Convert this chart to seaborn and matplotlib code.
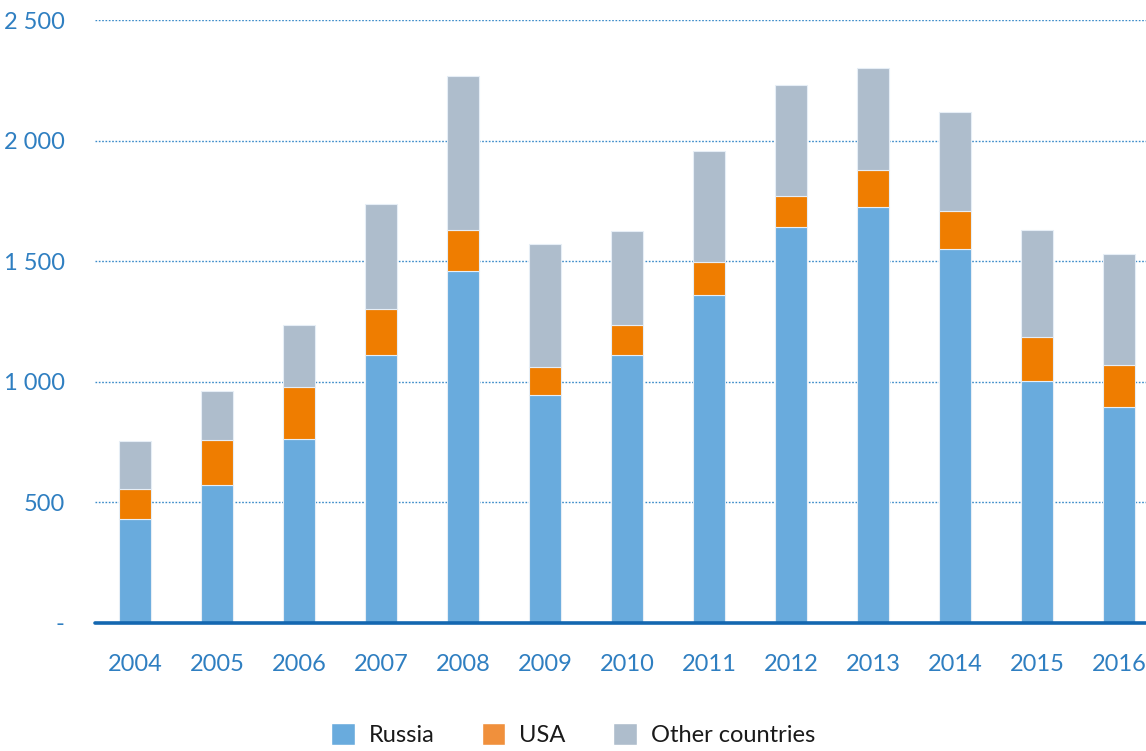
import pandas as pd
import matplotlib
matplotlib.use("Agg")
import matplotlib.pyplot as plt
import seaborn as sns
from matplotlib.patches import Patch

# -----------------------------
# Data
# -----------------------------
years = ["2004", "2005", "2006", "2007", "2008", "2009", "2010",
         "2011", "2012", "2013", "2014", "2015", "2016"]
russia = [430, 571, 763, 1112, 1461, 947, 1112, 1361, 1642, 1726, 1553, 1005, 895]
usa = [126, 188, 216, 191, 167, 115, 122, 138, 130, 152, 157, 180, 176]
other = [199, 204, 258, 436, 642, 511, 391, 460, 460, 422, 410, 444, 459]

y_ticks = [0, 500, 1000, 1500, 2000, 2500]
y_tick_labels = ["-", "500", "1 000", "1 500", "2 000", "2 500"]
series_names = ["Russia", "USA", "Other countries"]

df = pd.DataFrame({"year": years, "Russia": russia, "USA": usa, "Other": other})
df["base_usa"] = df["Russia"]
df["base_other"] = df["Russia"] + df["USA"]

c_russia = "#69abdd"
c_usa = "#ef7d00"
c_other = "#aebdcc"
c_text = "#2f7fc1"

sns.set_style("white")
plt.rcParams["font.family"] = ["Lato", "DejaVu Sans"]

fig = plt.figure(figsize=(11.46, 7.51), dpi=100)
ax = fig.add_axes([0.083, 0.1705, 0.917, 0.8025])

bar_kw = dict(width=0.39, edgecolor="#e6eef6", linewidth=0.8, ax=ax, order=years)
sns.barplot(data=df, x="year", y="Russia", color=c_russia, saturation=1, **bar_kw)
sns.barplot(data=df, x="year", y="USA", color=c_usa, saturation=1,
            bottom=df["base_usa"].values, **bar_kw)
sns.barplot(data=df, x="year", y="Other", color=c_other, saturation=1,
            bottom=df["base_other"].values, **bar_kw)

ax.set_xlim(-0.49, 12.33)
ax.set_ylim(0, 2500)
ax.set_yticks(y_ticks)
ax.set_yticklabels(y_tick_labels)
ax.set_xlabel("")
ax.set_ylabel("")

for y in y_ticks[1:]:
    ax.axhline(y, color="#3a8ac8", lw=1.0, ls=(0, (1.2, 1.2)), zorder=0)
ax.axhline(0, color="#1467b0", lw=2.6, zorder=5, clip_on=False)

for s in ax.spines.values():
    s.set_visible(False)
ax.tick_params(axis="y", length=0, pad=22, labelsize=17, labelcolor=c_text)
ax.tick_params(axis="x", length=0, pad=22, labelsize=17, labelcolor=c_text)
ax.set_axisbelow(True)

handles = [Patch(facecolor=c_russia), Patch(facecolor="#f0903c"), Patch(facecolor=c_other)]
fig.legend(handles, series_names, loc="center", bbox_to_anchor=(0.5, 0.022),
           ncol=3, frameon=False, fontsize=17, handlelength=1.0, handleheight=1.1,
           columnspacing=2.0, handletextpad=0.6, labelcolor="#1a1a1a")

fig.savefig("out.png", dpi=100)
